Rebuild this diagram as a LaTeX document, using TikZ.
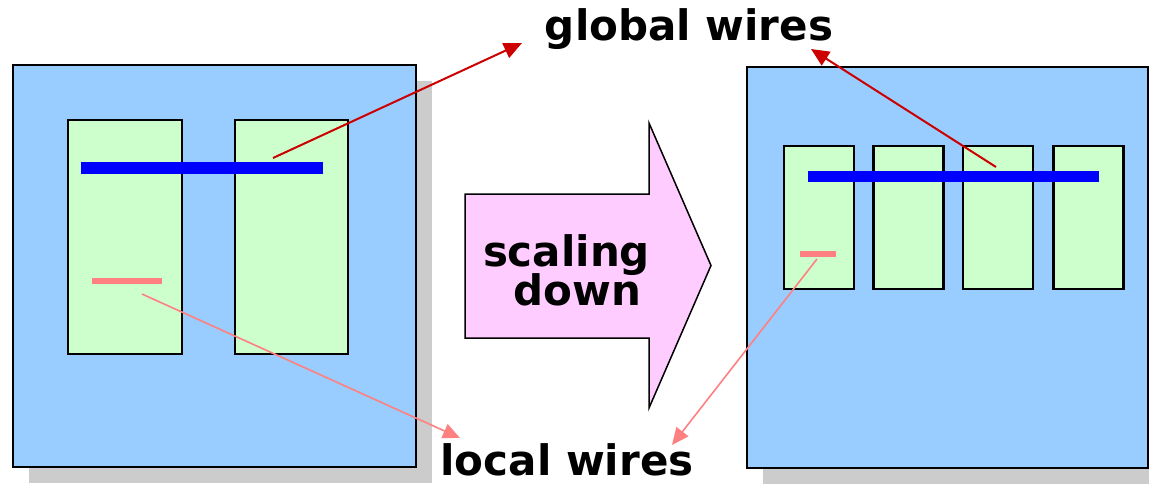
\documentclass[tikz,border=0pt]{standalone}
\usepackage{fontspec}
\setmainfont{DejaVu Sans}
\usetikzlibrary{arrows.meta,shadows}

\definecolor{chipblue}{HTML}{99CCFF}
\definecolor{blockgreen}{HTML}{CCFFCC}
\definecolor{globalblue}{HTML}{0000FF}
\definecolor{localpink}{HTML}{FF8080}
\definecolor{globalred}{HTML}{CC0000}
\definecolor{shadowgray}{HTML}{CCCCCC}
\definecolor{arrowpink}{HTML}{FFCCFF}

\tikzset{
  chip/.style={draw=black, line width=2.2pt, fill=chipblue, inner sep=0pt,
    drop shadow={shadow xshift=16pt, shadow yshift=-16pt, fill=shadowgray, opacity=1}},
  block/.style={draw=black, line width=2.2pt, fill=blockgreen, inner sep=0pt},
  gwire/.style={fill=globalblue, inner sep=0pt},
  lwire/.style={fill=localpink, inner sep=0pt},
  label/.style={font=\fontsize{42}{50}\selectfont\bfseries, inner sep=0pt, anchor=base},
  gconn/.style={draw=globalred, line width=2pt, -{Triangle[length=18pt,width=16pt]}},
  lconn/.style={draw=localpink, line width=1.6pt, -{Triangle[length=17pt,width=15pt]}},
}

\begin{document}
\begin{tikzpicture}[x=1pt, y=-1pt]
  \useasboundingbox (0,0) rectangle (1149,483);

  % chip before scaling
  \node[chip, minimum width=403pt, minimum height=402pt] (chipL) at (214.5,266) {};
  \node[block, minimum width=114pt, minimum height=234pt] (bL1) at (125,237) {};
  \node[block, minimum width=113pt, minimum height=234pt] (bL2) at (291.5,237) {};
  \node[gwire, minimum width=242pt, minimum height=12pt] (gwL) at (202,168) {};
  \node[lwire, minimum width=70pt, minimum height=6pt] (lwL) at (127,281) {};

  % chip after scaling
  \node[chip, minimum width=401pt, minimum height=401pt] (chipR) at (947.5,267.5) {};
  \foreach \cx [count=\i] in {819,908.5,998,1088.5}
    \node[block, minimum width=70pt, minimum height=143pt] (bR\i) at (\cx,217.5) {};
  \node[gwire, minimum width=291pt, minimum height=11pt] (gwR) at (953.5,176.5) {};
  \node[lwire, minimum width=36pt, minimum height=6pt] (lwR) at (818,254) {};

  % scaling arrow
  \draw[fill=arrowpink, line width=1.5pt, line join=miter]
    (465,194) -- (649,194) -- (649,123) -- (711,265.5) -- (649,408) -- (649,338) -- (465,338) -- cycle;
  \node[label] (scl) at (566.5,266) {scaling};
  \node[label] (dwn) at (577.5,305) {down};

  % labels
  \node[label] (glob) at (689,40) {global wires};
  \node[label] (loc) at (567,475) {local wires};

  % connectors
  \coordinate (gsL) at (273,158);
  \coordinate (gtL) at (522,43);
  \coordinate (gsR) at (996,167);
  \coordinate (gtR) at (811,49);
  \coordinate (lsL) at (142,294);
  \coordinate (ltL) at (460,438);
  \coordinate (lsR) at (817,259);
  \coordinate (ltR) at (672,445);
  \draw[gconn] (gsL) -- (gtL);
  \draw[gconn] (gsR) -- (gtR);
  \draw[lconn] (lsL) -- (ltL);
  \draw[lconn] (lsR) -- (ltR);
\end{tikzpicture}
\end{document}
